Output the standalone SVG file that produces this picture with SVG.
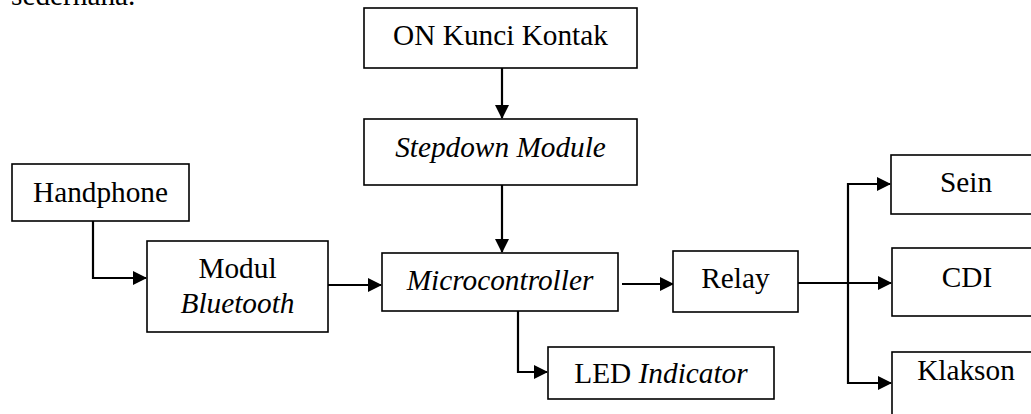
<svg xmlns="http://www.w3.org/2000/svg" width="1031" height="414" viewBox="0 0 1031 414">
<defs>
<style>
.box{fill:#fff;stroke:#000;stroke-width:1.6}
.t{font-family:"Liberation Serif","Times New Roman",serif;font-size:29.3px;fill:#000;text-anchor:middle}
.i{font-style:italic}
.c{fill:none;stroke:#000;stroke-width:2.2}
</style>
<marker id="ah" markerUnits="userSpaceOnUse" markerWidth="14" markerHeight="14" refX="13" refY="7" orient="auto" viewBox="0 0 14 14">
<path d="M0,0 L14,7 L0,14 Z" fill="#000"/>
</marker>
</defs>
<rect width="1031" height="414" fill="#fff"/>
<text x="11" y="5" style="font-family:'Liberation Serif','Times New Roman',serif;font-size:29.3px">sederhana.</text>

<g id="connectors">
<path class="c" d="M93,221 V278 H146" marker-end="url(#ah)"/>
<path class="c" d="M328,285 H381" marker-end="url(#ah)"/>
<path class="c" d="M502,68 V118" marker-end="url(#ah)"/>
<path class="c" d="M502,185 V252" marker-end="url(#ah)"/>
<path class="c" d="M622,284 H673" marker-end="url(#ah)"/>
<path class="c" d="M518,311 V372 H547" marker-end="url(#ah)"/>
<path class="c" d="M798,283 H891" marker-end="url(#ah)"/>
<path class="c" d="M848,283 V184 H890" marker-end="url(#ah)"/>
<path class="c" d="M848,283 V383 H891" marker-end="url(#ah)"/>
</g>

<g id="handphone"><rect class="box" x="12" y="164" width="177" height="57"/><text class="t" x="100.5" y="202">Handphone</text></g>
<g id="bluetooth"><rect class="box" x="147" y="241" width="181" height="91"/><text class="t" x="237.5" y="278">Modul</text><text class="t i" x="237.5" y="313">Bluetooth</text></g>
<g id="kunci"><rect class="box" x="364" y="8" width="273" height="60"/><text class="t" x="500.5" y="45">ON Kunci Kontak</text></g>
<g id="stepdown"><rect class="box" x="364" y="119" width="273" height="66"/><text class="t i" x="500.5" y="157">Stepdown Module</text></g>
<g id="micro"><rect class="box" x="382" y="253" width="236" height="58"/><text class="t i" x="500" y="290">Microcontroller</text></g>
<g id="relay"><rect class="box" x="673" y="251" width="125" height="61"/><text class="t" x="735.5" y="288">Relay</text></g>
<g id="led"><rect class="box" x="548" y="347" width="226" height="52"/><text class="t" x="661" y="383">LED <tspan class="i">Indicator</tspan></text></g>
<g id="sein"><rect class="box" x="891" y="155" width="150" height="59"/><text class="t" x="966" y="192">Sein</text></g>
<g id="cdi"><rect class="box" x="892" y="248" width="150" height="68"/><text class="t" x="967" y="287">CDI</text></g>
<g id="klakson"><rect class="box" x="892" y="352" width="150" height="80"/><text class="t" x="966" y="380">Klakson</text></g>
</svg>
